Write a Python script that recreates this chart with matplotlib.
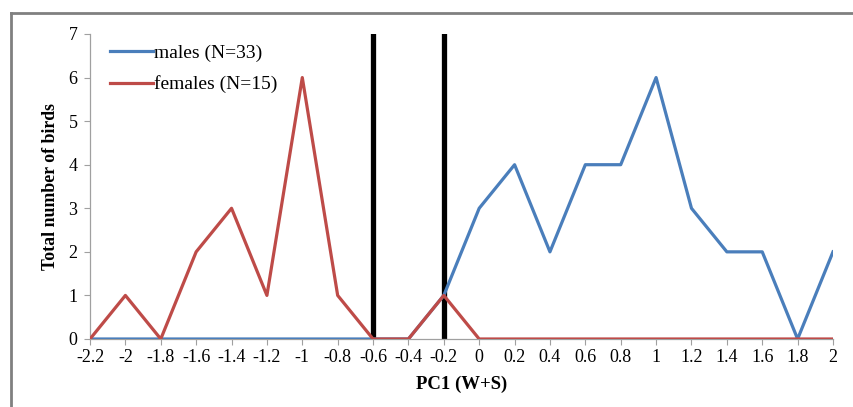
import numpy as np
import matplotlib.pyplot as plt
from matplotlib.lines import Line2D

# histogram of PC1 scores, bins every 0.2
pc1 = [-2.2, -2.0, -1.8, -1.6, -1.4, -1.2, -1.0, -0.8, -0.6, -0.4, -0.2,
       0.0, 0.2, 0.4, 0.6, 0.8, 1.0, 1.2, 1.4, 1.6, 1.8, 2.0]
tick_labels = ['-2.2', '-2', '-1.8', '-1.6', '-1.4', '-1.2', '-1', '-0.8',
               '-0.6', '-0.4', '-0.2', '0', '0.2', '0.4', '0.6', '0.8', '1',
               '1.2', '1.4', '1.6', '1.8', '2']
males = [0, 0, 0, 0, 0, 0, 0, 0, 0, 0, 1, 3, 4, 2, 4, 4, 6, 3, 2, 2, 0, 2]
females = [0, 1, 0, 2, 3, 1, 6, 1, 0, 0, 1, 0, 0, 0, 0, 0, 0, 0, 0, 0, 0, 0]
cutoffs = [-0.6, -0.2]

plt.rcParams['font.family'] = ['Liberation Serif', 'DejaVu Serif']

fig = plt.figure(figsize=(8.54, 4.07), dpi=100)
ax = fig.add_axes([0.1054, 0.1671, 0.87, 0.7494])

ax.plot(pc1, males, color='#4A7EBB', lw=2.3, label='males (N=33)', zorder=3)
ax.plot(pc1, females, color='#BE4B48', lw=2.3, label='females (N=15)', zorder=4)
for c in cutoffs:
    ax.axvline(c, ymin=0, ymax=1, color='black', lw=3.8, zorder=2)

ax.set_xlim(-2.2, 2.0)
ax.set_ylim(0, 7)
ax.set_xticks(pc1)
ax.set_xticklabels(tick_labels)
ax.set_yticks(range(8))
ax.tick_params(axis='both', labelsize=13, color='#A0A0A0', length=4)
ax.tick_params(axis='x', pad=3)
ax.tick_params(axis='y', pad=5)
for s in ['top', 'right']:
    ax.spines[s].set_visible(False)
for s in ['left', 'bottom']:
    ax.spines[s].set_color('#A0A0A0')
    ax.spines[s].set_linewidth(0.9)

ax.set_xlabel('PC1 (W+S)', fontsize=13.5, fontweight='bold', labelpad=7)
ax.set_ylabel('Total number of birds', fontsize=12.8, fontweight='bold', labelpad=7)

ax.legend(loc='upper left', bbox_to_anchor=(0.004, 1.025), frameon=False,
          fontsize=14, handlelength=2.2, handletextpad=0.05, labelspacing=0.72)

# grey frame, cropped on right and bottom
fig.add_artist(Line2D([11 / 854, 11 / 854], [0, 1 - 13 / 407],
                      color='#808080', lw=2, transform=fig.transFigure))
fig.add_artist(Line2D([11 / 854, 1], [1 - 13 / 407, 1 - 13 / 407],
                      color='#808080', lw=2, transform=fig.transFigure))

fig.savefig('out.png', dpi=100)
